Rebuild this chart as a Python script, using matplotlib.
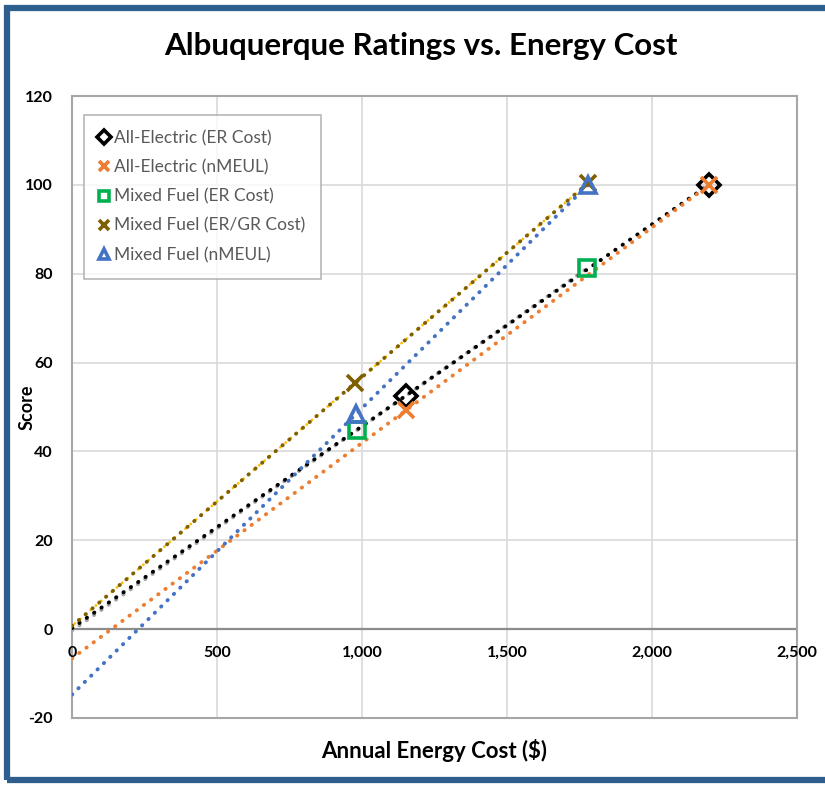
import numpy as np
import matplotlib.pyplot as plt
from matplotlib.patches import Rectangle

plt.rcParams['font.family'] = ['Lato', 'DejaVu Sans']
plt.rcParams['axes.unicode_minus'] = False

# Albuquerque: annual energy cost vs score
ae_er_x = [1150, 2195]
ae_er_y = [52.5, 100]
ae_nm_x = [1152, 2197]
ae_nm_y = [49.3, 100]
mf_er_x = [983, 1776]
mf_er_y = [44.8, 81.2]
mf_ergr_x = [976, 1779]
mf_ergr_y = [55.4, 100.4]
mf_nm_x = [979, 1779]
mf_nm_y = [48.4, 100]

x_ticks = [0, 500, 1000, 1500, 2000, 2500]
y_ticks = [-20, 0, 20, 40, 60, 80, 100, 120]

series = [
    ('All-Electric (ER Cost)', ae_er_x, ae_er_y, 'D', 'none', 'black', 'black', 'none'),
    ('All-Electric (nMEUL)', ae_nm_x, ae_nm_y, 'x', '#ED7D31', '#ED7D31', '#ED7D31', 'none'),
    ('Mixed Fuel (ER Cost)', mf_er_x, mf_er_y, 's', 'none', '#00B050', '#A5A5A5', 'none'),
    ('Mixed Fuel (ER/GR Cost)', mf_ergr_x, mf_ergr_y, 'x', '#7F6000', '#7F6000', '#7F6000', '#FFC000'),
    ('Mixed Fuel (nMEUL)', mf_nm_x, mf_nm_y, '^', 'none', '#4472C4', '#4472C4', 'none'),
]

fig = plt.figure(figsize=(8.25, 7.85), dpi=100)
ax = fig.add_axes([0.0873, 0.0854, 0.879, 0.7923])

# linear trendlines, extended back to zero
for name, xs, ys, mk, fc, ec, tc, under in series:
    k, b = np.polyfit(xs, ys, 1)
    tx = np.array([0, max(xs)])
    if under != 'none':
        ax.plot(tx, k * tx + b, color=under, lw=2.0, linestyle=(1.2, (0.1, 2.4)),
                dash_capstyle='round', zorder=2)
    ax.plot(tx, k * tx + b, color=tc, lw=2.8, linestyle=(0, (0.1, 2.2)),
            dash_capstyle='round', zorder=3 if tc != '#A5A5A5' else 2.5)

for name, xs, ys, mk, fc, ec, tc, under in series:
    size = 11 if mk in ('D', 's', '^') else 12
    ax.plot(xs, ys, linestyle='none', marker=mk, markersize=size,
            markerfacecolor='none' if fc == 'none' else fc,
            markeredgecolor=ec, markeredgewidth=2.6, label=name, zorder=4)

ax.set_xlim(0, 2500)
ax.set_ylim(-20, 120)
ax.set_yticks(y_ticks)
ax.set_xticks(x_ticks)
ax.set_xticklabels([])
ax.tick_params(length=0)
ax.tick_params(axis='y', labelsize=11.5, pad=14)
for lbl in ax.get_yticklabels():
    lbl.set_fontweight('bold')
ax.grid(True, color='#D9D9D9', lw=1.2)
ax.set_axisbelow(True)
for sp in ax.spines.values():
    sp.set_color('#A6A6A6')
    sp.set_linewidth(1.5)

# category axis crosses at zero
ax.axhline(0, color='#8C8C8C', lw=1.6, zorder=1.5)
for t in x_ticks:
    ax.annotate(f'{t:,}', (t, 0), xytext=(0, -17), textcoords='offset points',
                ha='center', va='center', fontsize=11.5, fontweight='bold')

ax.set_xlabel('Annual Energy Cost ($)', fontsize=16, fontweight='bold', labelpad=12)
ax.set_ylabel('Score', fontsize=13, fontweight='bold')
ax.yaxis.set_label_coords(-0.05, 0.5)
fig.text(0.51, 0.942, 'Albuquerque Ratings vs. Energy Cost', ha='center', va='center',
         fontsize=22.5, fontweight='bold')

leg = ax.legend(loc='upper left', bbox_to_anchor=(0.004, 0.984), fontsize=12.5,
                frameon=True, fancybox=False, edgecolor='#A6A6A6', handlelength=0.6,
                handletextpad=0.25, labelspacing=0.75, borderpad=0.9, markerscale=0.65)
leg.get_frame().set_linewidth(1.2)
for txt in leg.get_texts():
    txt.set_color('#595959')

# outer chart border
fig.patches.append(Rectangle((0.009, 0.006), 1.2, 0.984, transform=fig.transFigure,
                             fill=False, edgecolor='#2E5E8E', lw=4.5))

fig.savefig('out.png', dpi=100)
